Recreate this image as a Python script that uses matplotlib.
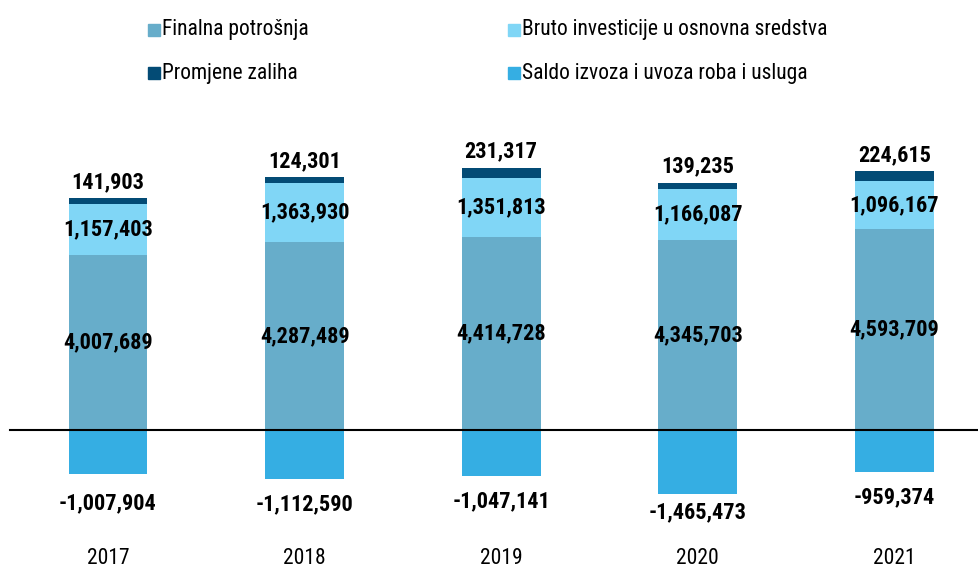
import matplotlib
matplotlib.use("Agg")
import matplotlib.pyplot as plt
from matplotlib import font_manager
from matplotlib.patches import Rectangle
import matplotlib.transforms as mtransforms

# podaci
godine = ["2017", "2018", "2019", "2020", "2021"]
finalna = [4007689, 4287489, 4414728, 4345703, 4593709]
bruto = [1157403, 1363930, 1351813, 1166087, 1096167]
promjene = [141903, 124301, 231317, 139235, 224615]
saldo = [-1007904, -1112590, -1047141, -1465473, -959374]

serije = ["Finalna potrošnja", "Bruto investicije u osnovna sredstva",
          "Promjene zaliha", "Saldo izvoza i uvoza roba i usluga"]
boje = ["#67adca", "#80d6f6", "#034b75", "#35aee3"]

# uski font ako postoji
imena = {f.name for f in font_manager.fontManager.ttflist}
font = "DejaVu Sans"
for k in ["Roboto Condensed", "Liberation Sans Narrow", "Open Sans Condensed"]:
    if k in imena:
        font = k
        break
plt.rcParams["font.family"] = [font, "DejaVu Sans"]

fig = plt.figure(figsize=(9.79, 5.69), dpi=100)
ax = fig.add_axes([0, 0, 1, 1])
ax.set_xlim(-0.549, 4.43)
ax.set_ylim(-3.18e6, 9.83e6)
ax.axis("off")

x = range(len(godine))
w = 0.4
dno2 = finalna
dno3 = [a + b for a, b in zip(finalna, bruto)]
ax.bar(x, finalna, w, color=boje[0])
ax.bar(x, bruto, w, bottom=dno2, color=boje[1])
ax.bar(x, promjene, w, bottom=dno3, color=boje[2])
ax.bar(x, saldo, w, color=boje[3])
ax.axhline(0, xmin=10 / 979, xmax=1, color="black", lw=1.5)

# pomak oznaka ispod negativnih stupaca (px)
pomak = [29, 26, 26, 18, 25]

fmt = lambda v: f"{v:,}"
for i in x:
    ax.text(i, finalna[i] / 2, fmt(finalna[i]), ha="center", va="center",
            fontsize=16, fontweight="bold")
    ax.text(i, dno2[i] + bruto[i] / 2, fmt(bruto[i]), ha="center", va="center",
            fontsize=16, fontweight="bold")
    ax.annotate(fmt(promjene[i]), (i, dno3[i] + promjene[i]), xytext=(0, 16),
                textcoords="offset pixels", ha="center", va="center",
                fontsize=16, fontweight="bold")
    ax.annotate(fmt(saldo[i]), (i, saldo[i]), xytext=(0, -pomak[i]),
                textcoords="offset pixels", ha="center", va="center",
                fontsize=16, fontweight="bold")

tr = mtransforms.blended_transform_factory(ax.transData, ax.transAxes)
for i in x:
    ax.text(i, 1 - 558 / 569, godine[i], transform=tr, ha="center",
            va="center", fontsize=15.5)

# legenda
pos = [(148, 30), (508, 30), (148, 73), (508, 73)]
for (px, py), s, c in zip(pos, serije, boje):
    fig.patches.append(Rectangle((px / 979, 1 - (py + 6) / 569), 12 / 979, 12 / 569,
                                 transform=fig.transFigure, color=c))
    fig.text((px + 14) / 979, 1 - py / 569, s, ha="left", va="center",
             fontsize=15.5)

fig.savefig("out.png", dpi=100)
